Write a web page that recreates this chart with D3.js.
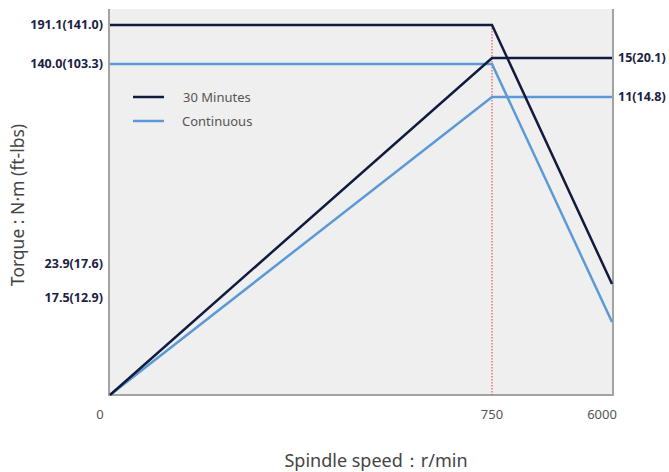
<!DOCTYPE html>
<html>
<head>
<meta charset="utf-8">
<script src="https://cdn.jsdelivr.net/npm/d3@7"></script>
<style>
  body { margin: 0; background: #fff; }
  text { font-family: "Noto Sans", sans-serif; }
</style>
</head>
<body>
<div id="chart"></div>
<script>
// speeds (r/min) and values
const speeds = [0, 750, 6000];
const torque30 = [191.1, 191.1, 23.9];     // N·m, 30 minutes
const torqueCont = [140.0, 140.0, 17.5];   // N·m, continuous
const power30 = [0, 15, 15];               // kW, 30 minutes
const powerCont = [0, 11, 11];             // kW, continuous
const torqueTicks = [191.1, 140.0, 23.9, 17.5];
const torqueTickLabels = ["191.1(141.0)", "140.0(103.3)", "23.9(17.6)", "17.5(12.9)"];
const powerTicks = [15, 11];
const powerTickLabels = ["15(20.1)", "11(14.8)"];
const speedTicks = [0, 750, 6000];
const seriesNames = ["30 Minutes", "Continuous"];

const width = 669, height = 472;
const navy = "#111a3f", blue = "#5b9ad6";

let svg = d3.select("#chart")
    .append("svg")
    .attr("width", width)
    .attr("height", height);

// schematic (piecewise) scales, as in the catalogue drawing
let x = d3.scaleLinear().domain(speeds).range([110, 492, 612]);
let yT = d3.scaleLinear().domain([0, 17.5, 23.9, 140.0, 191.1]).range([395, 322, 284, 64, 25]);
let yP = d3.scaleLinear().domain([0, 11, 15]).range([395, 97, 58]);

// plot background and frame
svg.append("rect")
    .attr("x", x(0)).attr("y", 9)
    .attr("width", x(6000) - x(0)).attr("height", yT(0) - 9)
    .attr("fill", "#efefef");
svg.append("path")
    .attr("d", `M${x(0) - 1},9V${yT(0)}H${x(6000) + 1}V9`)
    .attr("fill", "none")
    .attr("stroke", "#a3a3a3")
    .attr("stroke-width", 2);

// red dotted line at base speed
svg.append("line")
    .attr("x1", x(750)).attr("x2", x(750))
    .attr("y1", yT(191.1)).attr("y2", yT(0))
    .attr("stroke", "#e8374a")
    .attr("stroke-width", 1)
    .attr("stroke-dasharray", "1.5,1.5");

function drawLine(vals, y, color) {
    let pts = speeds.map((s, i) => [x(s), y(vals[i])]);
    svg.append("path")
        .attr("d", d3.line()(pts))
        .attr("fill", "none")
        .attr("stroke", color)
        .attr("stroke-width", 2.5);
}
drawLine(powerCont, yP, blue);
drawLine(torqueCont, yT, blue);
drawLine(power30, yP, navy);
drawLine(torque30, yT, navy);

// left torque labels (lower two sit a little above their line ends)
const lowShift = {23.9: -20, 17.5: -24};
svg.append("g")
    .selectAll("text")
    .data(torqueTicks)
    .enter()
    .append("text")
    .attr("x", 103)
    .attr("y", d => yT(d) + (lowShift[d] || 0))
    .attr("dy", "0.35em")
    .attr("text-anchor", "end")
    .attr("font-size", 12.5)
    .attr("font-weight", "bold")
    .attr("fill", "#1b2142")
    .text((d, i) => torqueTickLabels[i]);

// right power labels
svg.append("g")
    .selectAll("text")
    .data(powerTicks)
    .enter()
    .append("text")
    .attr("x", 618)
    .attr("y", d => yP(d))
    .attr("dy", "0.35em")
    .attr("font-size", 12.5)
    .attr("font-weight", "bold")
    .attr("fill", "#1b2142")
    .text((d, i) => powerTickLabels[i]);

// speed tick labels
svg.append("g")
    .selectAll("text")
    .data(speedTicks)
    .enter()
    .append("text")
    .attr("x", d => x(d) + (d === 750 ? 0 : -10))
    .attr("y", 414)
    .attr("dy", "0.35em")
    .attr("text-anchor", "middle")
    .attr("font-size", 13)
    .attr("fill", "#555")
    .text(d => d);

// axis titles
svg.append("text")
    .attr("x", 376).attr("y", 461)
    .attr("dy", "0.35em")
    .attr("text-anchor", "middle")
    .attr("font-size", 18)
    .attr("fill", "#444")
    .text("Spindle speed：r/min");

svg.append("text")
    .attr("transform", "translate(18,205) rotate(-90)")
    .attr("dy", "0.35em")
    .attr("text-anchor", "middle")
    .attr("font-size", 17.5)
    .attr("fill", "#444")
    .text("Torque : N·m (ft-lbs)");

// legend
let legend = svg.append("g")
    .selectAll("g")
    .data(seriesNames)
    .enter()
    .append("g")
    .attr("transform", (d, i) => `translate(133, ${97 + i * 24})`);
legend.append("line")
    .attr("x1", 0).attr("x2", 31)
    .attr("stroke", (d, i) => i === 0 ? navy : blue)
    .attr("stroke-width", 2.5);
legend.append("text")
    .attr("x", (d, i) => i === 0 ? 50 : 49)
    .attr("dy", "0.35em")
    .attr("font-size", 13)
    .attr("fill", "#555")
    .text(d => d);
</script>
</body>
</html>
